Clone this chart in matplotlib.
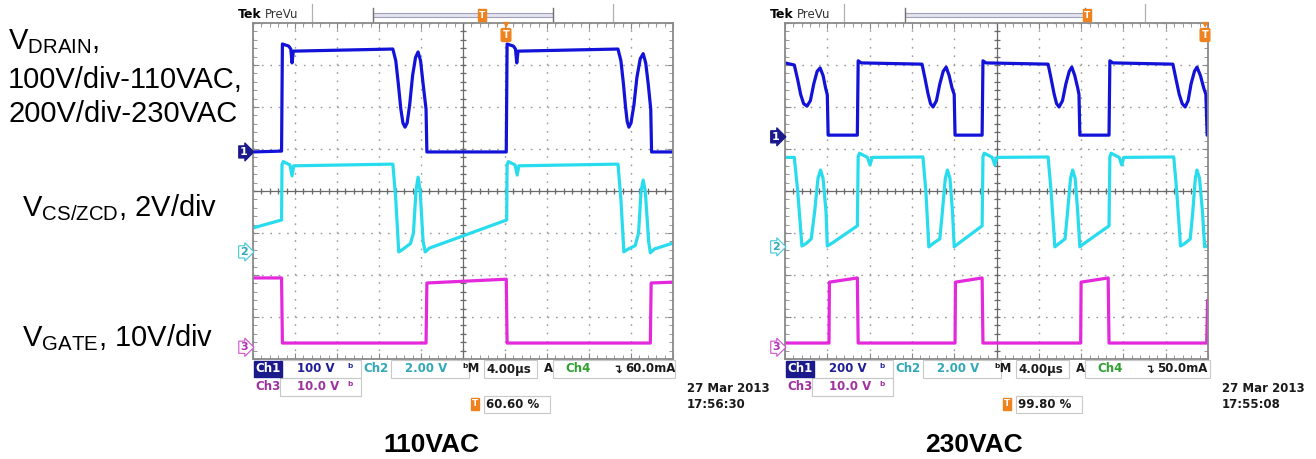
"""
Flyback switching waveforms at 110VAC and 230VAC, redrawn as two
Tek-style scope screens (drain, CS/ZCD and gate voltages).
Traces are read off the screenshots in graticule divisions
(x: 0..10 div at 4 us/div, y: -4..4 div, 0 = centre line).
"""

import numpy as np
import matplotlib
matplotlib.use("Agg")
import matplotlib.pyplot as plt

plt.rcParams["font.family"] = ["Liberation Sans", "DejaVu Sans"]
plt.rcParams["mathtext.fontset"] = "custom"
plt.rcParams["mathtext.rm"] = "Liberation Sans"
plt.rcParams["mathtext.it"] = "Liberation Sans"

W, H = 1316, 459

# ---- 110VAC screen -------------------------------------------------------
L_DRAIN_T = [0, 0.68, 0.70, 0.85, 0.90, 0.93, 0.96, 3.33, 3.40, 3.46, 3.52, 3.57,
             3.62, 3.67, 3.73, 3.80, 3.87, 3.93, 3.99, 4.05, 4.12, 4.14, 6.03,
             6.05, 6.20, 6.25, 6.28, 6.31, 8.69, 8.76, 8.82, 8.87, 8.91, 8.95,
             9.00, 9.07, 9.14, 9.22, 9.29, 9.35, 9.41, 9.47, 9.49, 10]
L_DRAIN_V = [0.93, 0.95, 3.50, 3.45, 3.38, 3.05, 3.33, 3.38, 3.10, 2.55, 1.95, 1.62,
             1.52, 1.62, 2.05, 2.75, 3.18, 3.31, 3.10, 2.55, 1.95, 0.93, 0.93,
             3.50, 3.45, 3.38, 3.05, 3.33, 3.38, 3.10, 2.55, 2.00, 1.65, 1.52,
             1.62, 2.05, 2.70, 3.15, 3.27, 3.05, 2.55, 1.95, 0.93, 0.93]

L_CS_T = [0, 0.68, 0.69, 0.72, 0.88, 0.93, 0.97, 3.33, 3.40, 3.47, 3.55, 3.75,
          3.82, 3.88, 3.93, 3.98, 4.05, 4.10, 4.20, 6.04, 6.05, 6.08, 6.24, 6.29,
          6.33, 8.69, 8.76, 8.83, 8.90, 9.10, 9.18, 9.24, 9.29, 9.34, 9.42, 9.46,
          9.56, 10]
L_CS_V = [-0.88, -0.69, 0.62, 0.70, 0.62, 0.36, 0.60, 0.64, -0.20, -1.45, -1.40,
          -1.25, -1.00, 0.00, 0.33, 0.00, -1.20, -1.45, -1.36, -0.69, 0.62, 0.70,
          0.62, 0.38, 0.60, 0.64, -0.20, -1.45, -1.40, -1.30, -1.00, 0.00, 0.26,
          0.00, -1.20, -1.47, -1.38, -1.24]

L_GATE_T = [0, 0.68, 0.70, 4.12, 4.14, 6.03, 6.05, 9.46, 9.48, 10]
L_GATE_V = [-2.07, -2.07, -3.62, -3.62, -2.19, -2.10, -3.62, -3.62, -2.19, -2.17]

# ---- 230VAC screen -------------------------------------------------------
R_DRAIN_T = [0, 0.22, 0.30, 0.37, 0.44, 0.52, 0.60, 0.68, 0.76, 0.83, 0.90, 0.96,
             1.00, 1.02, 1.71, 1.73, 1.80, 3.24, 3.31, 3.38, 3.44, 3.50, 3.58,
             3.66, 3.74, 3.81, 3.88, 3.95, 4.00, 4.02, 4.66, 4.68, 4.75, 6.22,
             6.29, 6.36, 6.42, 6.48, 6.56, 6.64, 6.72, 6.78, 6.85, 6.92, 6.95,
             6.97, 7.66, 7.68, 7.75, 9.17, 9.24, 9.32, 9.39, 9.46, 9.53, 9.60,
             9.68, 9.74, 9.82, 9.90, 9.95, 9.98, 10]
R_DRAIN_V = [3.05, 3.00, 2.65, 2.30, 2.08, 2.02, 2.15, 2.55, 2.85, 2.93, 2.75, 2.45,
             2.29, 1.33, 1.33, 3.10, 3.05, 3.02, 2.68, 2.32, 2.08, 2.00, 2.15,
             2.55, 2.85, 2.95, 2.75, 2.45, 2.30, 1.33, 1.33, 3.10, 3.05, 3.02,
             2.68, 2.32, 2.08, 2.00, 2.15, 2.55, 2.85, 2.95, 2.75, 2.45, 2.30,
             1.33, 1.33, 3.10, 3.05, 3.02, 2.68, 2.30, 2.08, 2.00, 2.15, 2.55,
             2.85, 2.95, 2.75, 2.45, 2.30, 1.33, 1.33]

R_CS_T = [0, 0.22, 0.30, 0.40, 0.50, 0.62, 0.70, 0.78, 0.84, 0.90, 0.97, 1.00,
          1.10, 1.71, 1.73, 1.76, 1.95, 2.01, 2.06, 3.26, 3.33, 3.40, 3.50, 3.66,
          3.72, 3.79, 3.84, 3.90, 3.96, 4.00, 4.10, 4.66, 4.68, 4.71, 4.90, 4.96,
          5.01, 6.22, 6.29, 6.38, 6.48, 6.62, 6.68, 6.75, 6.80, 6.86, 6.92, 6.97,
          7.07, 7.66, 7.68, 7.71, 7.90, 7.96, 8.01, 9.19, 9.26, 9.35, 9.45, 9.58,
          9.64, 9.70, 9.74, 9.80, 9.87, 9.92, 10]
R_CS_V = [0.80, 0.80, 0.00, -1.31, -1.25, -1.14, -0.50, 0.30, 0.50, 0.30, -0.50,
          -1.31, -1.25, -0.83, 0.81, 0.90, 0.80, 0.62, 0.80, 0.81, 0.00, -1.33,
          -1.25, -1.14, -0.50, 0.30, 0.50, 0.30, -0.50, -1.33, -1.25, -0.83, 0.81,
          0.90, 0.80, 0.62, 0.80, 0.81, 0.00, -1.33, -1.25, -1.14, -0.50, 0.30,
          0.50, 0.30, -0.50, -1.33, -1.25, -0.83, 0.81, 0.90, 0.80, 0.62, 0.80,
          0.81, 0.00, -1.31, -1.25, -1.14, -0.50, 0.30, 0.50, 0.30, -0.50, -1.33,
          -1.30]

R_GATE_T = [0, 1.04, 1.05, 1.71, 1.73, 4.02, 4.03, 4.66, 4.68, 6.99, 7.00, 7.64,
            7.66, 9.97, 9.99, 10]
R_GATE_V = [-3.62, -3.62, -2.17, -2.07, -3.62, -3.62, -2.17, -2.07, -3.62, -3.62,
            -2.17, -2.07, -3.62, -3.62, -2.60, -2.60]

# channel ground markers (div)
L_MARKERS = [0.93, -1.45, -3.72]
R_MARKERS = [1.29, -1.33, -3.72]

# readout texts
L_READ = dict(ch1="100 V", ch4="60.0mA", pct="60.60 %", date="27 Mar 2013", time="17:56:30")
R_READ = dict(ch1="200 V", ch4="50.0mA", pct="99.80 %", date="27 Mar 2013", time="17:55:08")
TITLES = ["110VAC", "230VAC"]

C_BLUE = "#1212d8"
C_CYAN = "#28dcee"
C_MAG = "#e428dc"
C_ORANGE = "#f0821e"


def fx(x):
    return x / W


def fy(y):
    return 1 - y / H


def scope(fig, left, right, drain, cs, gate, markers, read, trig_x):
    ax = fig.add_axes([fx(left), fy(359), fx(right - left), 336 / H])
    ax.set_xlim(0, 10)
    ax.set_ylim(-4, 4)
    ax.set_xticks(range(0, 11))
    ax.set_yticks(range(-4, 5))
    ax.set_xticks(np.arange(0, 10.01, 0.2), minor=True)
    ax.set_yticks(np.arange(-4, 4.01, 0.2), minor=True)
    ax.tick_params(which="both", direction="in", top=True, right=True,
                   labelbottom=False, labelleft=False, color="#888888")
    ax.tick_params(which="major", length=4)
    ax.tick_params(which="minor", length=3)
    ax.grid(True, which="major", color="#9a9a9a", lw=1.0, linestyle=(0, (1.2, 4.85)))
    for s in ax.spines.values():
        s.set_color("#8a8a8a")
        s.set_linewidth(1.3)

    # centre crosshair with fine ticks
    ax.axhline(0, color="#6a6a6a", lw=0.9)
    ax.axvline(5, color="#6a6a6a", lw=0.9)
    fine = np.arange(0.2, 10, 0.2)
    ax.plot(fine, np.zeros_like(fine), ls="none", marker="|", ms=5, color="#6a6a6a", mew=0.9)
    fine_y = np.arange(-3.8, 4, 0.2)
    ax.plot(np.full_like(fine_y, 5), fine_y, ls="none", marker="_", ms=5, color="#6a6a6a", mew=0.9)

    ax.plot(*drain, color=C_BLUE, lw=2.3, solid_joinstyle="round")
    ax.plot(*cs, color=C_CYAN, lw=2.3, solid_joinstyle="round")
    ax.plot(*gate, color=C_MAG, lw=2.3, solid_joinstyle="round")

    # ground markers
    trans = ax.get_yaxis_transform()
    styles = [("1", "white", "#1a1a8c", "#1a1a8c"),
              ("2", "#30a8b8", "white", "#40c8d8"),
              ("3", "#b030b0", "white", "#d050d0")]
    for lvl, (lab, tc, fc, ec) in zip(markers, styles):
        ax.text(-0.013, lvl, lab, transform=trans, ha="right", va="center",
                fontsize=8, fontweight="bold", color=tc, family="DejaVu Sans",
                bbox=dict(boxstyle="rarrow,pad=0.1", fc=fc, ec=ec, lw=0.8),
                clip_on=False)

    # top status bar
    fig.text(fx(left - 15), fy(15), "Tek", fontsize=9, fontweight="bold",
             family="DejaVu Sans", va="center")
    fig.text(fx(left + 12), fy(15), "PreVu", fontsize=8.5, color="#333333",
             family="DejaVu Sans", va="center")
    for sx in (left + 59, left + 360):
        fig.add_artist(plt.Line2D([fx(sx), fx(sx)], [fy(4), fy(21)], color="#b0b0b0", lw=0.9))
    bx0, bx1 = left + 120, left + 300
    fig.add_artist(plt.Rectangle((fx(bx0), fy(17)), fx(bx1 - bx0), 4 / H,
                                 fc="#e4e4f0", ec="#a0a0b8", lw=0.8))
    for bx in (bx0, bx1):
        fig.add_artist(plt.Line2D([fx(bx), fx(bx)], [fy(8), fy(21)], color="#707070", lw=1.0))
    mx = left + (229 if left < 500 else 302)
    fig.text(fx(mx), fy(15), "T", fontsize=6.5, fontweight="bold", color="white",
             ha="center", va="center", family="DejaVu Sans",
             bbox=dict(boxstyle="square,pad=0.12", fc=C_ORANGE, ec=C_ORANGE))
    fig.text(fx(trig_x), fy(35), "T", fontsize=7, fontweight="bold", color="white",
             ha="center", va="center", family="DejaVu Sans",
             bbox=dict(boxstyle="round,pad=0.15", fc=C_ORANGE, ec=C_ORANGE))
    fig.text(fx(trig_x), fy(25), "\u25bc", fontsize=6, color=C_ORANGE,
             ha="center", va="center", family="DejaVu Sans")

    # readout rows
    ro = dict(fontsize=8.5, fontweight="bold", family="DejaVu Sans", va="center")
    fig.text(fx(left + 2), fy(369), "Ch1", color="white",
             bbox=dict(boxstyle="square,pad=0.12", fc="#1a1a8c", ec="#1a1a8c"), **ro)
    fig.text(fx(left + 44), fy(369), read["ch1"], color="#1e1e96", **ro)
    fig.text(fx(left + 94), fy(369), "\u1d47", color="#2a2aa0", **ro)
    fig.text(fx(left + 110), fy(369), "Ch2", color="#30a8b8", **ro)
    fig.text(fx(left + 152), fy(369), "2.00 V", color="#30a8b8", **ro)
    fig.text(fx(left + 209), fy(369), "\u1d47M", color="#1a1a1a", **ro)
    fig.text(fx(left + 233), fy(369), "4.00\u00b5s", color="#1a1a1a", **ro)
    fig.text(fx(left + 291), fy(369), "A", color="#1a1a1a", **ro)
    fig.text(fx(left + 312), fy(369), "Ch4", color="#30a030", **ro)
    fig.text(fx(left + 359), fy(369), "\u21b4", color="#1a1a1a", **ro)
    fig.text(fx(left + 372), fy(369), read["ch4"], color="#1a1a1a", **ro)
    fig.text(fx(left + 2), fy(387), "Ch3", color="#a030a0", **ro)
    fig.text(fx(left + 44), fy(387), "10.0 V", color="#a030a0", **ro)
    fig.text(fx(left + 94), fy(387), "\u1d47", color="#a030a0", **ro)
    fig.text(fx(left + 222), fy(404), "T", fontsize=6.5, fontweight="bold", color="white",
             ha="center", va="center", family="DejaVu Sans",
             bbox=dict(boxstyle="square,pad=0.12", fc=C_ORANGE, ec=C_ORANGE))
    fig.text(fx(left + 233), fy(404), read["pct"], color="#1a1a1a", **ro)
    for (bx0, bx1, by0, by1) in [(left + 27, left + 108, 360, 378),
                                 (left + 27, left + 108, 378, 396),
                                 (left + 138, left + 216, 360, 378),
                                 (left + 231, left + 284, 360, 378),
                                 (left + 300, right + 2, 360, 378),
                                 (left + 231, left + 297, 396, 413)]:
        fig.add_artist(plt.Rectangle((fx(bx0), fy(by1)), fx(bx1 - bx0), (by1 - by0) / H,
                                     fc="none", ec="#c8c8c8", lw=0.8))
    fig.text(fx(right + 14), fy(389), read["date"], color="#1a1a1a", **ro)
    fig.text(fx(right + 14), fy(405), read["time"], color="#1a1a1a", **ro)
    return ax


fig = plt.figure(figsize=(W / 100, H / 100), dpi=100)
fig.patch.set_facecolor("white")

scope(fig, 253, 673, (L_DRAIN_T, L_DRAIN_V), (L_CS_T, L_CS_V), (L_GATE_T, L_GATE_V),
      L_MARKERS, L_READ, trig_x=506)
scope(fig, 785, 1208, (R_DRAIN_T, R_DRAIN_V), (R_CS_T, R_CS_V), (R_GATE_T, R_GATE_V),
      R_MARKERS, R_READ, trig_x=1205)

# channel labels on the left
lab = dict(fontsize=21, color="black", va="baseline")
fig.text(fx(8), fy(49), r"V$_{\mathrm{DRAIN}}$,", **lab)
fig.text(fx(8), fy(88), "100V/div-110VAC,", **lab)
fig.text(fx(8), fy(122), "200V/div-230VAC", **lab)
fig.text(fx(22), fy(216), r"V$_{\mathrm{CS/ZCD}}$, 2V/div", **lab)
fig.text(fx(22), fy(346), r"V$_{\mathrm{GATE}}$, 10V/div", **lab)

fig.text(fx(431), fy(452), TITLES[0], fontsize=19, fontweight="bold", ha="center", va="baseline")
fig.text(fx(974), fy(452), TITLES[1], fontsize=19, fontweight="bold", ha="center", va="baseline")

fig.savefig("out.png", dpi=100)
